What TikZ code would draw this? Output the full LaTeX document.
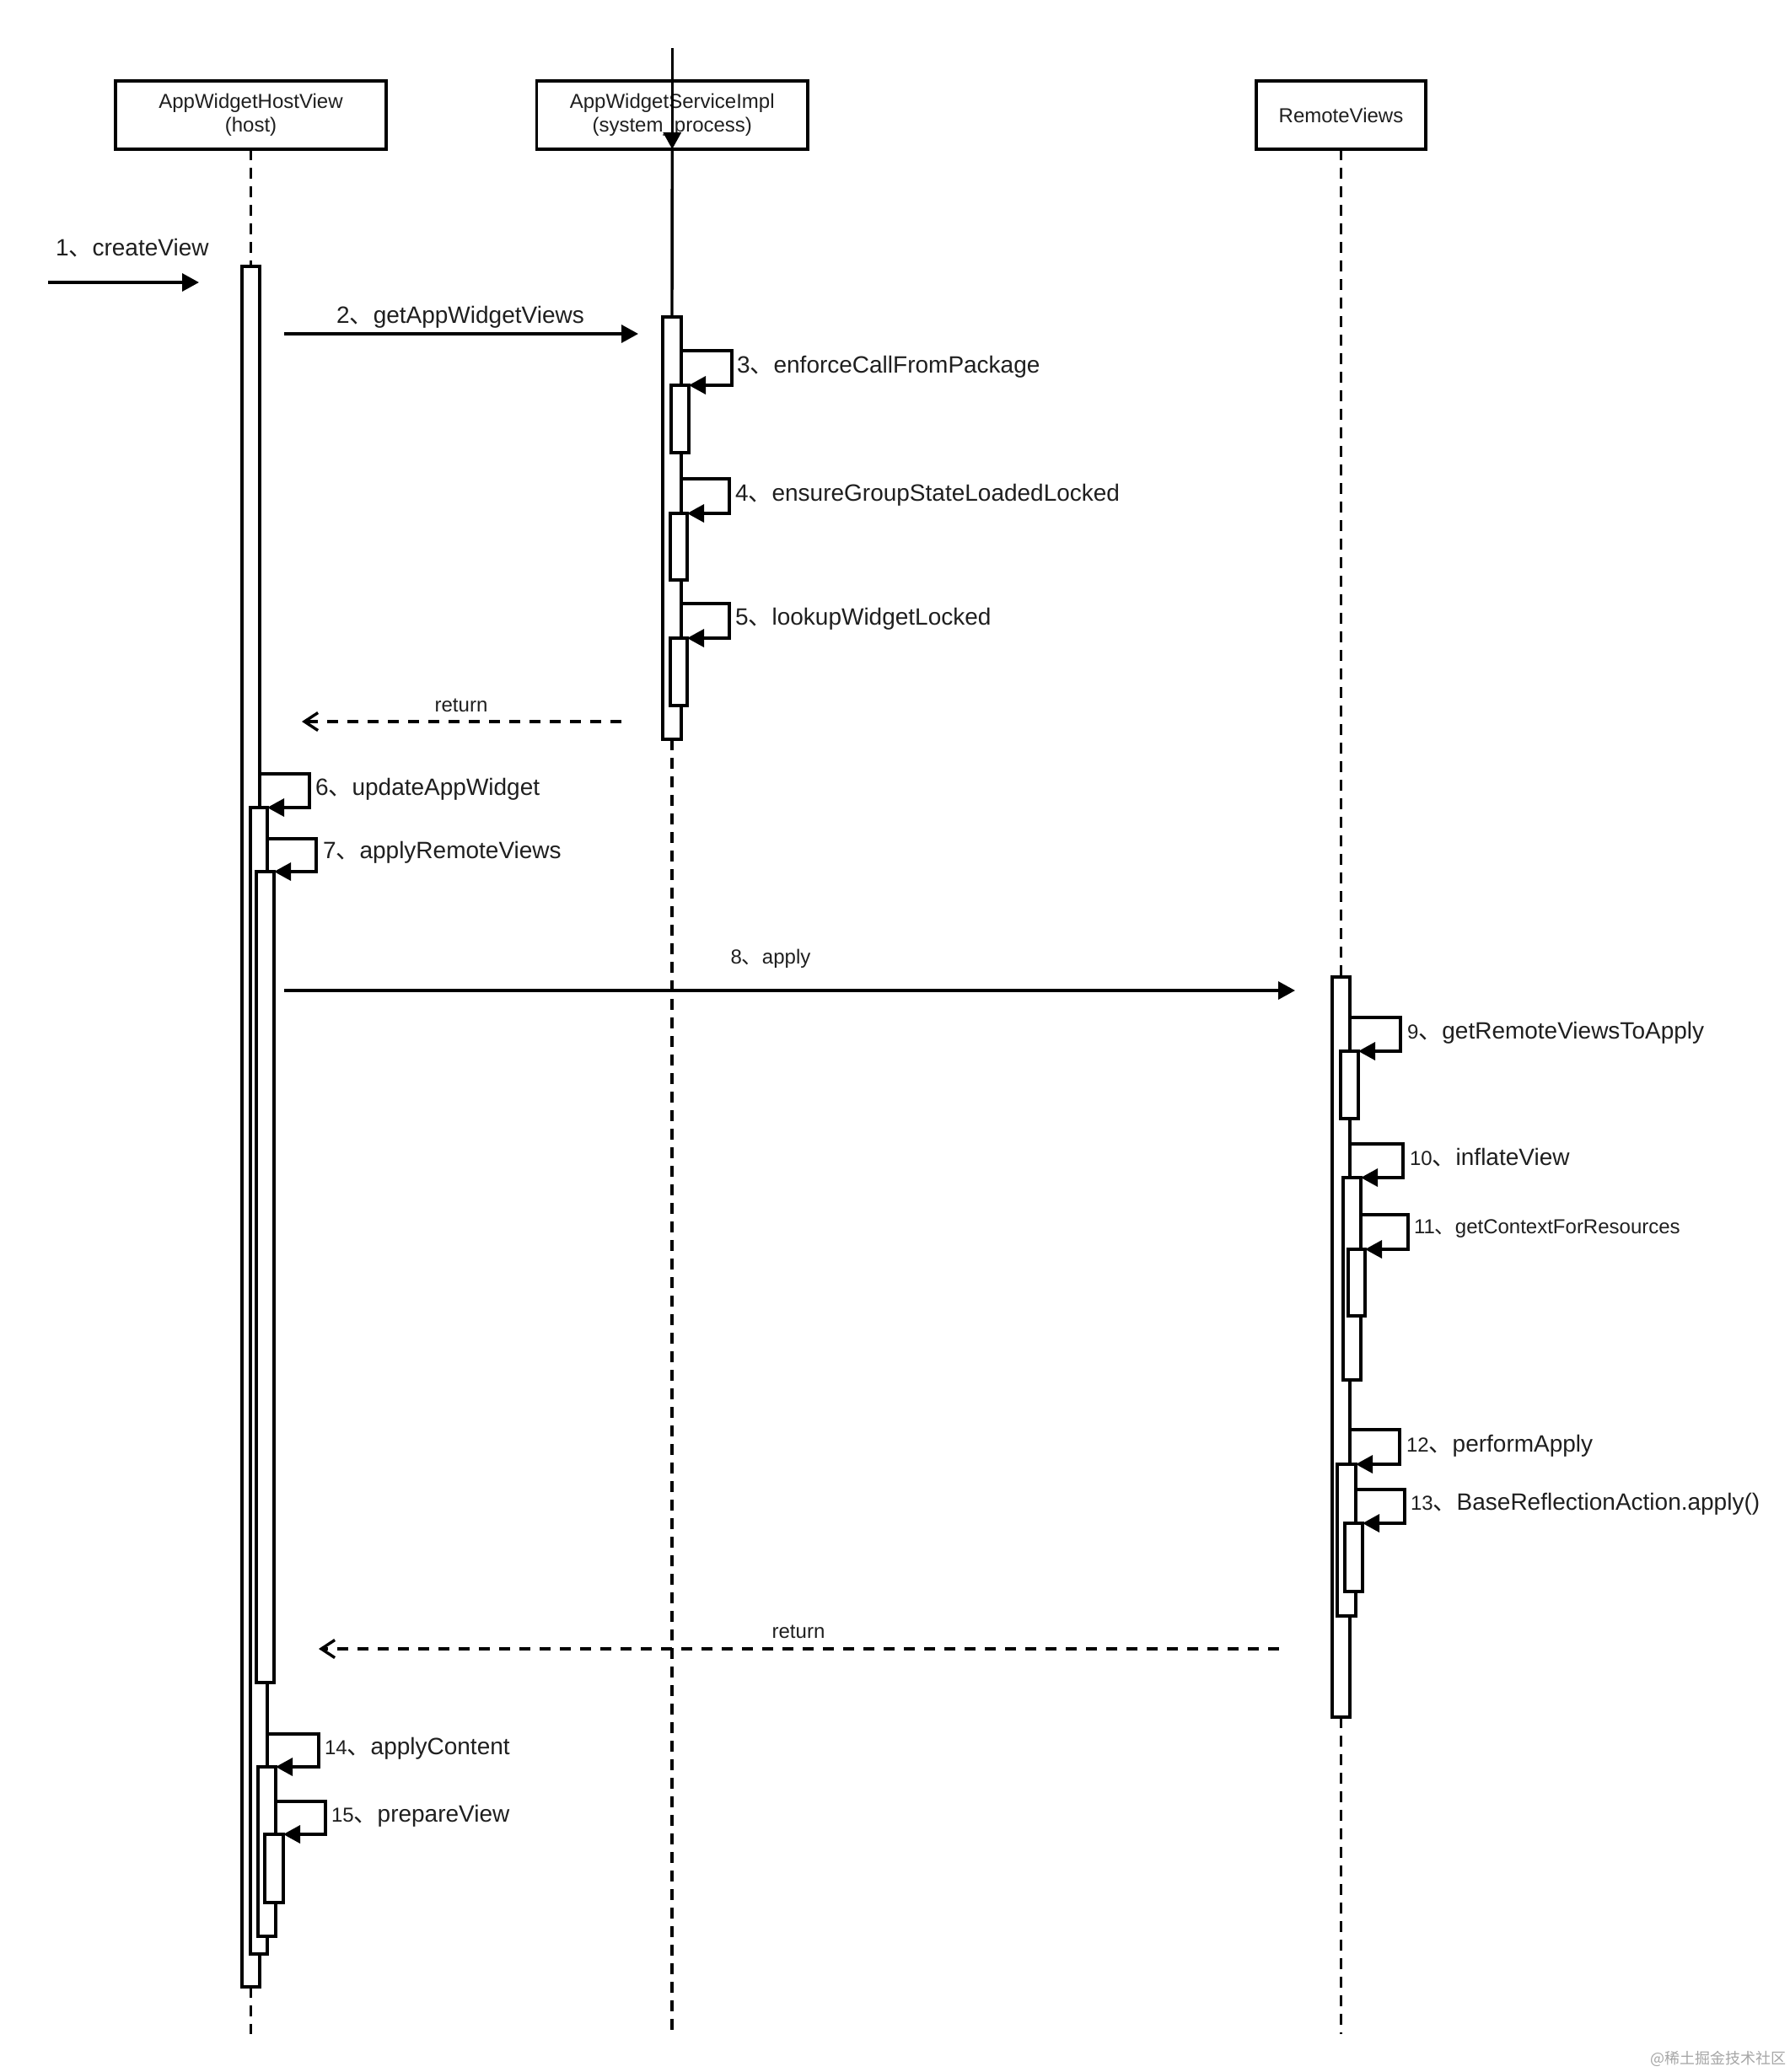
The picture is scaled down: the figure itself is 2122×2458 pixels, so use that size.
\documentclass[tikz,border=0pt]{standalone}
\usepackage{fontspec}
\setmainfont{Liberation Sans}
\newfontfamily\cjk{Noto Sans CJK SC}
\usetikzlibrary{arrows.meta,fit}
\newcommand\dunhao{{\cjk 、}}
\newcommand\nsm[1]{{\fontsize{12}{14}\selectfont #1}}
\begin{document}
\begin{tikzpicture}[x=0.5pt,y=-0.5pt,
  every node/.style={inner sep=0pt, outer sep=0pt, text=black!88},
  lw/.style={line width=1.7pt},
  objbox/.style={draw, lw, fill=white, align=center, font=\fontsize{12}{14}\selectfont},
  act/.style={draw, lw, fill=white, inner sep=0pt},
  life/.style={lw, dash pattern=on 6.5pt off 4.5pt},
  msg/.style={lw, -{Triangle[length=10pt,width=10.5pt]}},
  ret/.style={lw, dash pattern=on 6.5pt off 5.5pt, -{Straight Barb[length=8pt,width=10.5pt,sharp]}},
  lbl/.style={font=\fontsize{14}{17}\selectfont, anchor=base west},
  slbl/.style={font=\fontsize{12}{14}\selectfont},
]
\useasboundingbox (0,0) rectangle (2122,2458);
\fill[white] (0,0) rectangle (2122,2458);

% objects
\node[objbox, minimum width=160.5pt, minimum height=40.5pt] (host) at (297.5,136.5) {AppWidgetHostView\\(host)};
\node[objbox, minimum width=160.75pt, minimum height=40.5pt] (svc) at (797.25,136.5) {AppWidgetServiceImpl\\(system\_process)};
\node[objbox, minimum width=100.5pt, minimum height=40.5pt] (rv) at (1590.5,136.5) {RemoteViews};

% activation bars
\node[act, fit={(287,316) (308,2357)}] (A) {};
\node[act, fit={(297,958) (317,2318)}] (B) {};
\node[act, fit={(304,1034) (325,1996)}] (C) {};
\node[act, fit={(306,2096) (327,2297)}] (D) {};
\node[act, fit={(314,2176) (336,2257)}] (E) {};

\node[act, fit={(786,376) (808,877)}] (F) {};
\node[act, fit={(796,457) (817,537)}] (G) {};
\node[act, fit={(795,609) (815,688)}] (H) {};
\node[act, fit={(795,757) (815,837)}] (I) {};

\node[act, fit={(1580,1159) (1601,2037)}] (J) {};
\node[act, fit={(1590,1247) (1611,1327)}] (K) {};
\node[act, fit={(1593,1397) (1614,1637)}] (L) {};
\node[act, fit={(1599,1482) (1619,1561)}] (M) {};
\node[act, fit={(1586,1737) (1608,1917)}] (N) {};
\node[act, fit={(1595,1807) (1616,1888)}] (O) {};

% lifelines
\coordinate (hostEnd) at (297.5,2413);
\coordinate (svcEnd) at (797,2413);
\coordinate (rvEnd) at (1590.5,2413);
\draw[life] (host.south) -- (A.north);
\draw[life] (A.south) -- (hostEnd);
\draw[life] (F.south) -- (svcEnd);
\draw[life] (rv.south) -- (J.north);
\draw[life] (J.south) -- (rvEnd);

% service incoming line
\coordinate (svcTop) at (797.25,57);
\draw[msg] (svcTop) -- (svc.south);
\draw[lw] (svc.south) -- (F.north);

% self calls
\coordinate (s3) at (808,416);
\coordinate (s4) at (808,568);
\coordinate (s5) at (808,716);
\coordinate (s6) at (308,918);
\coordinate (s7) at (317,995);
\coordinate (s9) at (1601,1207);
\coordinate (s10) at (1601,1357);
\coordinate (s11) at (1614,1441);
\coordinate (s12) at (1601,1696);
\coordinate (s13) at (1608,1767);
\coordinate (s14) at (317,2057);
\coordinate (s15) at (327,2137);
\draw[msg] (s3) -- ++(60,0) |- (G.north east);
\draw[msg] (s4) -- ++(57,0) |- (H.north east);
\draw[msg] (s5) -- ++(57,0) |- (I.north east);
\draw[msg] (s6) -- ++(59,0) |- (B.north east);
\draw[msg] (s7) -- ++(58,0) |- (C.north east);
\draw[msg] (s9) -- ++(60,0) |- (K.north east);
\draw[msg] (s10) -- ++(63,0) |- (L.north east);
\draw[msg] (s11) -- ++(56,0) |- (M.north east);
\draw[msg] (s12) -- ++(59,0) |- (N.north east);
\draw[msg] (s13) -- ++(58,0) |- (O.north east);
\draw[msg] (s14) -- ++(61,0) |- (D.north east);
\draw[msg] (s15) -- ++(59,0) |- (E.north east);

% messages
\coordinate (m1s) at (57,335);  \coordinate (m1e) at (236,335);
\coordinate (m2s) at (337,396); \coordinate (m2e) at (757,396);
\coordinate (m8s) at (337,1175); \coordinate (m8e) at (1536,1175);
\coordinate (r1s) at (737,856); \coordinate (r1e) at (358,856);
\coordinate (r2s) at (1517,1956); \coordinate (r2e) at (378,1956);
\draw[msg] (m1s) -- (m1e);
\draw[msg] (m2s) -- (m2e);
\draw[msg] (m8s) -- (m8e);
\draw[ret] (r1s) -- (r1e);
\draw[ret] (r2s) -- (r2e);

% labels
\node[lbl] (t1) at (66,303) {1\dunhao createView};
\node[lbl, anchor=base] (t2) at (546,383) {2\dunhao getAppWidgetViews};
\node[lbl] (t3) at (874,442) {3\dunhao enforceCallFromPackage};
\node[lbl] (t4) at (872,594) {4\dunhao ensureGroupStateLoadedLocked};
\node[lbl] (t5) at (872,741) {5\dunhao lookupWidgetLocked};
\node[slbl, anchor=base] (tr1) at (547,844) {return};
\node[lbl] (t6) at (374,943) {6\dunhao updateAppWidget};
\node[lbl] (t7) at (383,1018) {7\dunhao applyRemoteViews};
\node[slbl, anchor=base] (t8) at (914,1143) {8\dunhao apply};
\node[lbl] (t9) at (1669,1232) {\nsm{9}\dunhao getRemoteViewsToApply};
\node[lbl] (t10) at (1672,1382) {\nsm{10}\dunhao inflateView};
\node[slbl, anchor=base west] (t11) at (1677,1463) {11\dunhao getContextForResources};
\node[lbl] (t12) at (1668,1722) {\nsm{12}\dunhao performApply};
\node[lbl] (t13) at (1673,1791) {\nsm{13}\dunhao BaseReflectionAction.apply()};
\node[slbl, anchor=base] (tr2) at (947,1943) {return};
\node[lbl] (t14) at (385,2081) {\nsm{14}\dunhao applyContent};
\node[lbl] (t15) at (393,2161) {\nsm{15}\dunhao prepareView};

% watermark
\node[anchor=base west, font=\cjk\fontsize{9}{11}\selectfont, text=black!35] (wm) at (1957,2448) {@稀土掘金技术社区};
\end{tikzpicture}
\end{document}
